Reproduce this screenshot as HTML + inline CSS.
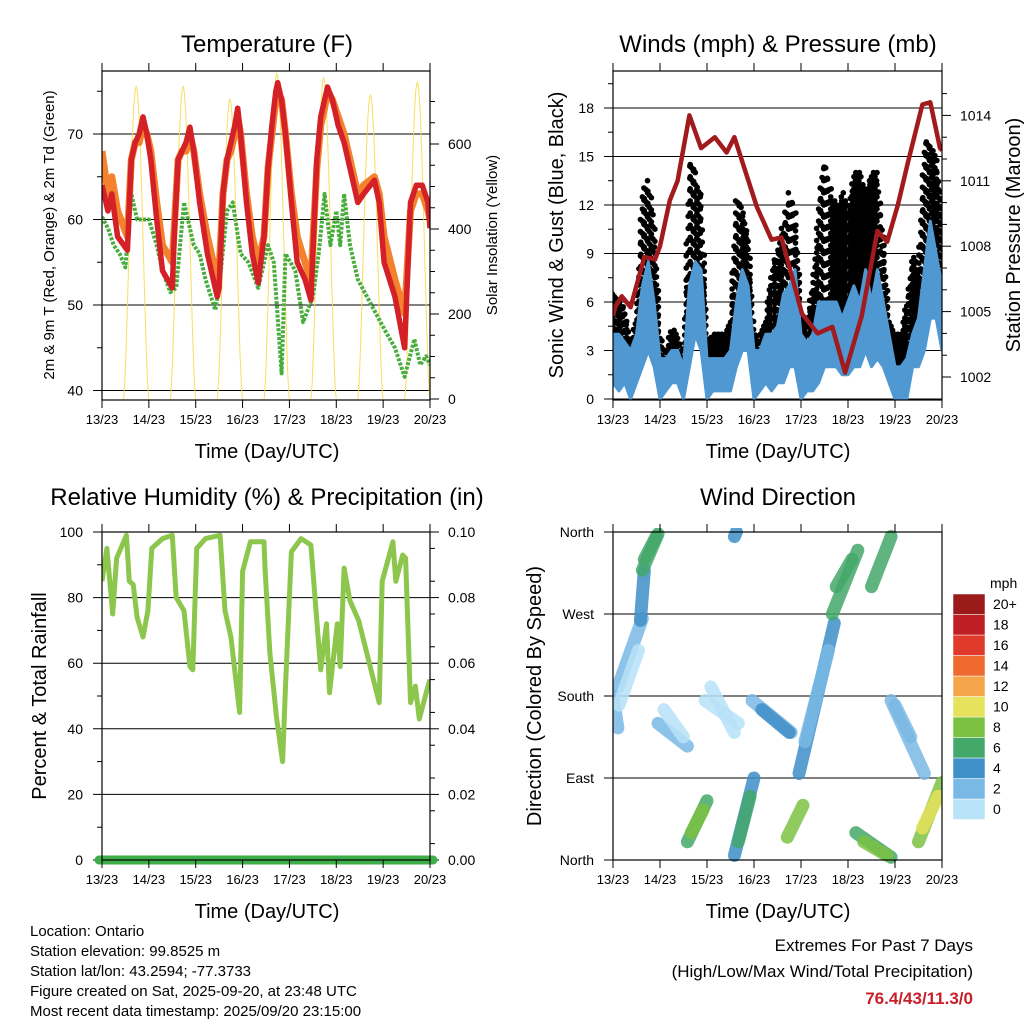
<!DOCTYPE html>
<html><head><meta charset="utf-8"><style>
body{margin:0;background:#fff}
svg{display:block;font-family:"Liberation Sans",Arial,sans-serif}
</style></head><body>
<svg id="chart" width="1024" height="1024" viewBox="0 0 1024 1024" xmlns="http://www.w3.org/2000/svg">
<rect width="1024" height="1024" fill="#fff"/>
</svg>
<script>
// ---- shared
const dayLabels = ["13/23","14/23","15/23","16/23","17/23","18/23","19/23","20/23"];
// ---- temperature panel data
const tempTimes = [0,3,5,8,13,15,17,19,21,23,25,28,31,36,37,39,41,43,45,47,50,54,59,60,62,64,66,68,69.5,71,74,77,80,83,85,87,89,90,92,94,97,100,104,107,110,112,114,115.5,118,121,124,127,131,134,139.5,142,144.5,150,155,158,161,164,167,168];
const temp2m = [64,61,63,58,56.4,67,69,70,72,70,67,60,54,52,58,67,68,69,70.8,68,62,56,51,52,63,67,69,71,73,70,62,56,52.6,58,66,71,75,76,74,70,62,55,53,50.6,67,72,74,75.5,74,71,69,66,62,63,64.6,62,55,51,45,62,64,64,62,59];
const temp9m = [68,63,65,61,58,67,69,69,71,70,68,62,57,55,59,67,68,68,70,68,63,58,53,54,63,67,68,70,72,70,63,58,55,58,66,70,74,75,74,70,63,58,55,53,66,71,73,75,74,72,70,67,63,64,65,63,58,53,49,61,63,63,61,60];
const dewTimes = [0,3,6,9,12,15,18,21,24,28,31,35,38,42,44,47,50,53,58,60,64,67,69,71,75,80,85,88,92,94,99,103,108,111,114,117,120,122,124,127,131,138,145,150,155,160,163,166,168];
const dew2m = [60.3,59,57,56,54.4,63,60,60,60,57,54,51.5,52,62,60,57,56,53,49.4,52,61,62,59,56,55,52,57,55,42,56,54,48,51,56,63,57,61,57,63,57,53,50,47,45,41.6,46,43,44,43];
const solarRise = [11,35,59,83,107,131,155];
const solarSet = [24,48,72,96,120,144,168];
const solarPeak = [735,735,705,765,755,715,745];
const tempTicks = [40,50,60,70];
const solarTicks = [0,200,400,600];
// ---- wind panel data (3-hourly)
const windTimes = [0,3,6,9,12,15,18,21,24,27,30,33,36,39,42,45,48,51,54,57,60,63,66,69,72,75,78,81,84,87,90,93,96,99,102,105,108,111,114,117,120,123,126,129,132,135,138,141,144,147,150,153,156,159,162,165,168];
const windHi = [4,4,3.5,3,4,7,8.5,6,2.5,2.5,3,3,2,7,8.5,8,2.5,2.5,2.5,2.5,3,6,8,7,3,3,4,4,4.5,6.5,7,8,4,3.5,4,6,6,6,6,5,6,7,6,8,6,8,6,4,2,2,2.5,4,5,8,11,9,7];
const windLo = [1,0.5,1,0,1,2,3,2,0,0.5,1,1,0,2,4,3,0,0.5,0.5,0.5,0.5,2,3,3,0,0.5,1,0.5,1,1,2,2,0,0.5,0.5,1,2,2,2,1.5,1.5,2,2,3,2,2.5,2,1,0,0,0,2,2,3,5,5,3];
const gustHi = [6.5,6,5.5,3.5,5,13,13.5,11,4,3,4.5,4,3,15,14,13,4,4,4,4,5,13,12,10,4,4,5,8,9,11,13,12,5,5,7,12,15,13,12,13,12,14,14,13,14,14,10,5,4,4,6,9,8,16,16,15,12];
const gustLo = [2.5,3,2.5,1.5,2,4,6,4,1,1.5,2,2,1.5,5,7,5,1,2,2,2,2,4,6,5,1,2,2,2,3,4,6,5,2,2,3,4,6,5,5,5,5,6,6,6,6,6,5,2,2,2,2,4,4,6,8,9,7];
const presTimes = [0,1,4.5,9,16,21.5,24,29,33,39,45,52,58,62,67,73.5,81,86,96.5,104.5,112,118.5,127,135,140,145.5,150.5,158,162,167,168];
const presVals = [1004.8,1005.2,1005.7,1005.2,1007.5,1007.4,1008,1010.1,1011,1014,1012.5,1013,1012.3,1013,1011.6,1009.8,1008.3,1008.4,1004.9,1004,1004.3,1002.2,1004.8,1008.7,1008.2,1009.9,1011.8,1014.5,1014.6,1012.5,1012.4];
const windTicks = [0,3,6,9,12,15,18];
const presTicks = [1002,1005,1008,1011,1014];
// ---- RH panel data
const rhTimes = [0,2.5,4,5.5,7.5,12.5,14,16,18,21,23.5,25.5,31,36,38,42,45,46.5,48.5,53,60.5,63,66,70.5,72,76,83,83.5,86,89.5,92.5,94,97,102,107,110,112,115,116.5,120.5,122,124,127,131.5,136.5,142,143.5,149,150.5,154,155.5,158,160.5,162.5,166.5,168];
const rhVals = [85,95,85,75,92,99,85,84,74,68,76,95,98,99,80,76,59,58,95,98,99,76,68,45,88,97,97,89,63,43,30,53,94,98,96,73,58,72,51,72,59,89,79,73,61,48,85,97,85,93,92,48,53,43,52,55];
const precipVals = [0,0];
const rhTicks = [0,20,40,60,80,100];
const precipTicks = ["0.00","0.02","0.04","0.06","0.08","0.10"];
// ---- wind direction clusters: [startHour, endHour, startDeg, endDeg, speedMph]
const dirStartT = [0,2.5,3,14,15,16,23,26,38,40,47,50,62,62,64,71,76,89,95,98,112,114,124,128,132,142,144,156,158];
const dirEndT   = [2.5,15,13,16,23,22,38,36,48,46,64,62,72,63,70,91,90,97,113,110,125,122,142,140,142,159,152,168,166];
const dirStartD = [180,190,170,263,318,330,150,165,20,30,175,190,5,355,20,175,165,25,95,130,270,300,30,20,300,175,170,20,35];
const dirEndD   = [145,265,230,318,358,355,125,135,65,55,150,140,90,360,70,140,140,60,260,230,340,330,3,5,355,95,135,85,70];
const dirSpeed  = [3,2,1,5,6,7,2,1,7,8,1,1,5,5,6,3,4,8,4,2,6,7,6,8,6,3,2,9,10];
const dirTicks = ["North","East","South","West","North"];
const speedLevels = ["0","2","4","6","8","10","12","14","16","18","20+"];
const speedColors = ["#b8e2f8","#7ab9e5","#3f8fc9","#44a86a","#7cc242","#e6e25c","#f6a64a","#ef6a2e","#e03a2c","#bf1e24","#9b1a1a"];

const svg = document.getElementById('chart');
const NS = "http://www.w3.org/2000/svg";
function mk(tag, attrs, parent){const e=document.createElementNS(NS,tag);for(const k in attrs)e.setAttribute(k,attrs[k]);(parent||svg).appendChild(e);return e;}
function txt(s, attrs, parent){const e=mk('text',attrs,parent);e.textContent=s;return e;}
function pts(ts, vs, xf, yf){return ts.map((t,i)=>xf(t).toFixed(1)+','+yf(vs[i]).toFixed(1)).join(' ');}

function frame(g,x0,y0,x1,y1){
  const xf = t=>x0+t/168*(x1-x0);
  for(let d=0; d<8; d++){
    const x=xf(d*24);
    mk('line',{x1:x,x2:x,y1:y1,y2:y1+8,stroke:'#000','stroke-width':1},g);
    mk('line',{x1:x,x2:x,y1:y0,y2:y0-8,stroke:'#000','stroke-width':1},g);
    const l=txt(dayLabels[d],{x:x,y:y1+24,'font-size':13,'text-anchor':'middle'},g);
    
    
  }
  mk('rect',{x:x0,y:y0,width:x1-x0,height:y1-y0,fill:'none',stroke:'#000','stroke-width':1.2},g);
  return xf;
}
function leftTicks(g,x0,x1,vals,yf,labels,minor){
  vals.forEach((v,i)=>{const y=yf(v);
    mk('line',{x1:x0-9,x2:x1,y1:y,y2:y,stroke:'#000','stroke-width':1},g);
    const l=txt(labels?labels[i]:String(v),{x:x0-19,y:y+5,'font-size':14,'text-anchor':'end'},g);
    
    
  });
  (minor||[]).forEach(v=>{const y=yf(v);mk('line',{x1:x0-5,x2:x0,y1:y,y2:y,stroke:'#000','stroke-width':1},g);});
}
function rightTicks(g,x1,vals,yf,labels,minor){
  vals.forEach((v,i)=>{const y=yf(v);
    mk('line',{x1:x1,x2:x1+9,y1:y,y2:y,stroke:'#000','stroke-width':1},g);
    const l=txt(labels?labels[i]:String(v),{x:x1+18,y:y+5,'font-size':14},g);
    
    
  });
  (minor||[]).forEach(v=>{const y=yf(v);mk('line',{x1:x1,x2:x1+5,y1:y,y2:y,stroke:'#000','stroke-width':1},g);});
}
function title(s,x,y,size,name){const t=txt(s,{x:x,y:y,'font-size':size,'text-anchor':'middle'});
  
  
  return t;}
function vtitle(s,x,y,size,name){const t=txt(s,{x:x,y:y,'font-size':size,'text-anchor':'middle',transform:`rotate(-90 ${x} ${y})`});
  
  
  return t;}
function clip(id,x0,y0,x1,y1){const c=mk('clipPath',{id:id});mk('rect',{x:x0,y:y0,width:x1-x0,height:y1-y0},c);return `url(#${id})`;}
function interp(ts,vs,t){for(let i=1;i<ts.length;i++){if(t<=ts[i]){const f=(t-ts[i-1])/(ts[i]-ts[i-1]);return vs[i-1]+f*(vs[i]-vs[i-1]);}}return vs[vs.length-1];}

// ===== Panel 1: Temperature
(function(){
  const X0=102,Y0=71,X1=430,Y1=400;
  const g=mk('g',{});
  
  
  const yT=v=>134+(70-v)*8.55, yS=v=>399-v*0.425;
  const xf=t=>X0+t/168*(X1-X0);
  const cp=clip('c1',X0,Y0,X1,Y1);
  leftTicks(g,X0,X1,tempTicks,yT,null,[45,55,65,75]);
  rightTicks(g,X1,solarTicks,yS,null,[50,100,150,250,300,350,450,500,550,650,700]);
  const pg=mk('g',{'clip-path':cp},g);
  solarRise.forEach((r,i)=>{
    const s=solarSet[i], arr=[];
    for(let k=0;k<=40;k++){const t=r+(s-r)*k/40;const f=Math.sin(Math.PI*k/40);arr.push(xf(t).toFixed(1)+','+yS(solarPeak[i]*Math.pow(f,1.6)).toFixed(1));}
    const p=mk('polyline',{points:arr.join(' '),fill:'none',stroke:'#f7dc4a','stroke-width':1,opacity:0.9},pg);
    
    
  });
  const o=mk('polyline',{points:pts(tempTimes,temp9m,xf,yT),fill:'none',stroke:'#f4812c','stroke-width':7,'stroke-linejoin':'round'},pg);
  
  
  const gr=mk('polyline',{points:pts(dewTimes,dew2m,xf,yT),fill:'none',stroke:'#49ad3d','stroke-width':4,'stroke-dasharray':'3 1.5','stroke-linejoin':'round'},pg);
  
  
  const r=mk('polyline',{points:pts(tempTimes,temp2m,xf,yT),fill:'none',stroke:'#d42027','stroke-width':5.5,'stroke-linejoin':'round'},pg);
  
  
  frame(g,X0,Y0,X1,Y1);
  title('Temperature (F)',267,52,24,'temperature-title');
  title('Time (Day/UTC)',267,458,20,'temperature-x-axis-title');
  vtitle('2m & 9m T (Red, Orange) & 2m Td (Green)',54,235,15,'temperature-y-axis-title');
  vtitle('Solar Insolation (Yellow)',497,235,15,'solar-y-axis-title');
})();

// ===== Panel 2: Winds & Pressure
(function(){
  const X0=613,Y0=71,X1=942,Y1=400;
  const g=mk('g',{});
  
  
  const yW=v=>399-v*16.17, yP=v=>377-(v-1002)*21.8;
  const xf=t=>X0+t/168*(X1-X0);
  const cp=clip('c2',X0,Y0,X1,Y1);
  leftTicks(g,X0,X1,windTicks,yW,null,[1.5,4.5,7.5,10.5,13.5,16.5,19.5]);
  rightTicks(g,X1,presTicks,yP,null,[1003,1004,1006,1007,1009,1010,1012,1013,1015]);
  const pg=mk('g',{'clip-path':cp},g);
  const gg=mk('g',{fill:'#000'},pg);
  
  
  let k=0;
  for(let t=0;t<=168;t+=0.6){
    const hi=interp(windTimes,gustHi,t), lo=interp(windTimes,gustLo,t);
    const step=hi-lo>6?0.75:0.5;
    for(let v=lo+(k%3)*0.25; v<=hi; v+=step){
      mk('circle',{cx:(xf(t)+((k*7)%3-1)*0.8).toFixed(1),cy:yW(v).toFixed(1),r:2.8},gg);
    }
    k++;
  }
  const top=windTimes.map((t,i)=>xf(t).toFixed(1)+','+yW(windHi[i]).toFixed(1));
  const bot=windTimes.map((t,i)=>xf(t).toFixed(1)+','+yW(windLo[i]).toFixed(1)).reverse();
  const wb=mk('polygon',{points:top.concat(bot).join(' '),fill:'#4f98d2',stroke:'#4f98d2','stroke-width':3,'stroke-linejoin':'round'},pg);
  
  
  const p=mk('polyline',{points:pts(presTimes,presVals,xf,yP),fill:'none',stroke:'#a11a1d','stroke-width':4.5,'stroke-linejoin':'round'},pg);
  
  
  frame(g,X0,Y0,X1,Y1);
  title('Winds (mph) & Pressure (mb)',778,52,24,'winds-title');
  title('Time (Day/UTC)',778,458,20,'winds-x-axis-title');
  vtitle('Sonic Wind & Gust (Blue, Black)',563,235,20,'wind-y-axis-title');
  vtitle('Station Pressure (Maroon)',1020,235,20,'pressure-y-axis-title');
})();

// ===== Panel 3: RH & Precip
(function(){
  const X0=102,Y0=532,X1=430,Y1=860;
  const g=mk('g',{});
  
  
  const yR=v=>860-v*3.28;
  const xf=t=>X0+t/168*(X1-X0);
  const cp=clip('c3',X0,Y0-4,X1,Y1);
  leftTicks(g,X0,X1,rhTicks,yR,null,[10,30,50,70,90]);
  rightTicks(g,X1,rhTicks,yR,precipTicks,[5,15,25,35,45,55,65,75,85,95]);
  const pg=mk('g',{'clip-path':cp},g);
  const l=mk('polyline',{points:pts(rhTimes,rhVals,xf,yR),fill:'none',stroke:'#8dc64c','stroke-width':5,'stroke-linejoin':'round'},pg);
  
  
  const pr=mk('line',{x1:X0-3,x2:X1+3,y1:yR(precipVals[0]*1000),y2:yR(precipVals[1]*1000),stroke:'#3fae49','stroke-width':9,'stroke-linecap':'round'},g);
  
  
  frame(g,X0,Y0,X1,Y1);
  title('Relative Humidity (%) & Precipitation (in)',267,505,24,'humidity-title');
  title('Time (Day/UTC)',267,918,20,'humidity-x-axis-title');
  vtitle('Percent & Total Rainfall',46,696,20,'humidity-y-axis-title');
})();

// ===== Panel 4: Wind Direction
(function(){
  const X0=613,Y0=532,X1=942,Y1=860;
  const g=mk('g',{});
  
  
  const yD=d=>860-d*328/360;
  const xf=t=>X0+t/168*(X1-X0);
  const cp=clip('c4',X0,Y0-4,X1,Y1+4);
  leftTicks(g,X0,X1,[0,90,180,270,360],yD,dirTicks,[]);
  const pg=mk('g',{'clip-path':cp},g);
  dirStartT.forEach((t0,i)=>{
    const c=speedColors[Math.min(10,Math.floor(dirSpeed[i]/2))];
    const seg=mk('line',{x1:xf(t0),x2:xf(dirEndT[i]),y1:yD(dirStartD[i]),y2:yD(dirEndD[i]),stroke:c,'stroke-width':13,'stroke-linecap':'round',opacity:0.85},pg);
    
    
  });
  frame(g,X0,Y0,X1,Y1);
  title('Wind Direction',778,505,24,'wind-direction-title');
  title('Time (Day/UTC)',778,918,20,'wind-direction-x-axis-title');
  vtitle('Direction (Colored By Speed)',541,696,20,'direction-y-axis-title');
  const cb=mk('g',{});
  
  
  const t=txt('mph',{x:990,y:588,'font-size':14},cb);
  
  
  speedLevels.forEach((lv,i)=>{
    const y=799-i*20.5;
    const r=mk('rect',{x:953,y:y,width:32,height:20.5,fill:speedColors[i],stroke:'#fff','stroke-width':0.5},cb);
    
    
    const l=txt(lv,{x:993,y:y+15,'font-size':14},cb);
    
    
  });
})();
</script>
<svg style="position:absolute;left:0;top:0" width="1024" height="1024">
<g font-family="Liberation Sans, Arial, sans-serif" font-size="15">
<text x="30" y="936">Location: Ontario</text>
<text x="30" y="956">Station elevation: 99.8525 m</text>
<text x="30" y="976">Station lat/lon: 43.2594; -77.3733</text>
<text x="30" y="996">Figure created on Sat, 2025-09-20, at 23:48 UTC</text>
<text x="30" y="1016">Most recent data timestamp: 2025/09/20 23:15:00</text>
<text x="973" y="951" font-size="17" text-anchor="end">Extremes For Past 7 Days</text>
<text x="973" y="977" font-size="17" text-anchor="end">(High/Low/Max Wind/Total Precipitation)</text>
<text x="973" y="1004" font-size="17" font-weight="bold" fill="#c8202a" text-anchor="end">76.4/43/11.3/0</text>
</g>
</svg>
</body></html>
